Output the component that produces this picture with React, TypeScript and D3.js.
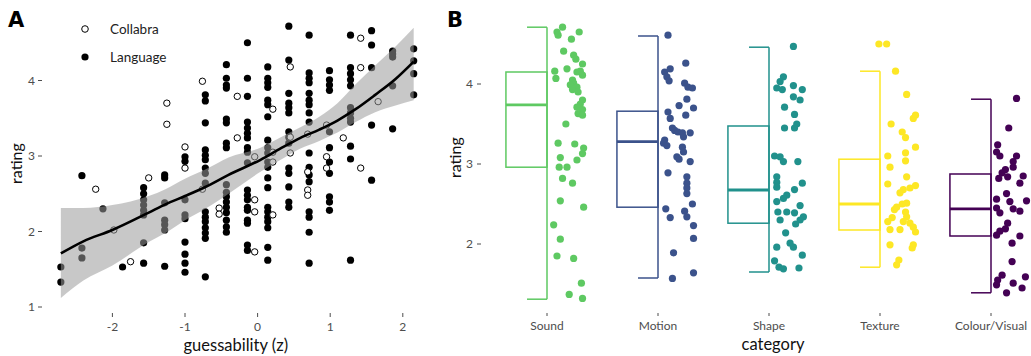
import React from 'react'
import * as d3 from 'd3'

// ---- Panel A data: guessability (z) vs rating
// each entry: [guessability, rating]
const languagePoints: [number, number][] = [
  [-2.71, 1.53], [-2.71, 1.33],
  [-2.42, 2.74], [-2.42, 1.78], [-2.42, 1.65],
  [-2.13, 2.3],
  [-1.86, 1.53],
  [-1.57, 2.58], [-1.57, 2.5], [-1.57, 2.42], [-1.57, 2.35], [-1.57, 2.28], [-1.57, 2.22], [-1.57, 1.85], [-1.57, 1.58],
  [-1.28, 2.75], [-1.28, 2.71], [-1.28, 2.38], [-1.28, 2.15], [-1.28, 2.09], [-1.28, 2.02], [-1.28, 1.54],
  [-1.0, 2.99], [-1.0, 2.93], [-1.0, 2.42], [-1.0, 2.22], [-1.0, 2.17], [-1.0, 1.86], [-1.0, 1.7], [-1.0, 1.58], [-1.0, 1.46],
  [-0.72, 3.81], [-0.72, 3.73], [-0.72, 3.44], [-0.72, 3.08], [-0.72, 3.01], [-0.72, 2.95], [-0.72, 2.84], [-0.72, 2.77],
  [-0.72, 2.64], [-0.72, 2.26], [-0.72, 2.19], [-0.72, 2.13], [-0.72, 2.05], [-0.72, 1.98], [-0.72, 1.91], [-0.72, 1.4],
  [-0.43, 4.21], [-0.43, 4.03], [-0.43, 3.94], [-0.43, 3.9], [-0.43, 3.49], [-0.43, 3.44], [-0.43, 3.17], [-0.43, 3.11],
  [-0.43, 2.62], [-0.43, 2.52], [-0.43, 2.46], [-0.43, 2.39], [-0.43, 2.32], [-0.43, 2.25], [-0.43, 2.15], [-0.43, 2.06], [-0.43, 1.99],
  [-0.14, 4.5], [-0.14, 4.03], [-0.14, 3.79], [-0.14, 3.45], [-0.14, 3.37], [-0.14, 3.3], [-0.14, 3.24], [-0.14, 3.11], [-0.14, 3.05],
  [-0.14, 2.91], [-0.14, 2.55], [-0.14, 2.48], [-0.14, 2.42], [-0.14, 2.32], [-0.14, 2.28], [-0.14, 2.15], [-0.14, 2.11], [-0.14, 1.82], [-0.14, 1.75],
  [0.14, 4.18], [0.14, 4.03], [0.14, 3.97], [0.14, 3.91], [0.14, 3.74], [0.14, 3.68], [0.14, 3.52], [0.14, 3.21], [0.14, 3.11], [0.14, 3.04],
  [0.14, 2.92], [0.14, 2.85], [0.14, 2.71], [0.14, 2.58], [0.14, 2.32], [0.14, 2.26], [0.14, 2.19], [0.14, 2.13], [0.14, 2.05], [0.14, 1.79], [0.14, 1.62],
  [0.43, 4.72], [0.43, 4.27], [0.43, 3.83], [0.43, 3.7], [0.43, 3.64], [0.43, 3.57], [0.43, 3.32], [0.43, 3.25], [0.43, 3.17],
  [0.43, 2.84], [0.43, 2.77], [0.43, 2.59], [0.43, 2.39], [0.43, 2.32],
  [0.71, 4.6], [0.71, 4.1], [0.71, 4.03], [0.71, 3.97], [0.71, 3.83], [0.71, 3.74], [0.71, 3.68], [0.71, 3.57], [0.71, 3.45], [0.71, 3.04],
  [0.71, 2.85], [0.71, 2.75], [0.71, 2.66], [0.71, 2.26], [0.71, 2.19], [0.71, 1.99], [0.71, 1.58],
  [0.99, 4.13], [0.99, 4.01], [0.99, 3.94], [0.99, 3.87], [0.99, 3.32], [0.99, 3.11], [0.99, 2.92], [0.99, 2.77], [0.99, 2.46], [0.99, 2.39], [0.99, 2.28],
  [1.28, 4.6], [1.28, 4.17], [1.28, 4.09], [1.28, 4.01], [1.28, 3.93], [1.28, 3.64], [1.28, 3.57], [1.28, 3.5], [1.28, 3.45], [1.28, 3.13], [1.28, 2.96], [1.28, 1.62],
  [1.57, 4.66], [1.57, 4.47], [1.57, 4.17], [1.57, 3.41], [1.57, 2.68],
  [1.86, 4.39], [1.86, 4.35], [1.86, 4.31], [1.86, 3.93], [1.86, 3.36],
  [2.15, 4.42], [2.15, 4.26], [2.15, 4.09], [2.15, 3.81],
]

const collabraPoints: [number, number][] = [
  [-2.23, 2.56], [-1.98, 2.02], [-1.75, 1.6], [-1.5, 2.71],
  [-1.25, 3.7], [-1.25, 3.42], [-1.0, 3.12], [-1.0, 2.84],
  [-0.76, 3.99], [-0.76, 2.56], [-0.53, 2.31], [-0.53, 2.23],
  [-0.28, 3.79], [-0.28, 3.24],
  [-0.04, 2.99], [-0.04, 2.42], [-0.04, 2.26], [-0.04, 1.73],
  [0.21, 3.62], [0.21, 3.05], [0.21, 2.92], [0.21, 2.22],
  [0.45, 4.18], [0.45, 3.25], [0.45, 3.04],
  [0.69, 3.29], [0.69, 2.79], [0.69, 2.55], [0.69, 2.48],
  [0.95, 3.41], [0.95, 2.99], [0.95, 2.84],
  [1.18, 3.24], [1.42, 4.56], [1.42, 4.17], [1.42, 2.84], [1.66, 3.72],
]

// smoothed fit and its confidence band
const fitX = [-2.71, -2.4, -2, -1.5, -1.27, -1, -0.72, -0.4, 0.04, 0.3, 0.59, 0.85, 1.1, 1.35, 1.62, 1.9, 2.15]
const fitY = [1.71, 1.87, 2.02, 2.25, 2.36, 2.47, 2.59, 2.75, 2.95, 3.09, 3.24, 3.35, 3.47, 3.62, 3.81, 4.02, 4.25]
const fitLo = [1.12, 1.35, 1.55, 1.86, 1.98, 2.15, 2.3, 2.5, 2.79, 2.94, 3.1, 3.2, 3.31, 3.45, 3.58, 3.67, 3.74]
const fitHi = [2.31, 2.31, 2.35, 2.47, 2.56, 2.7, 2.82, 2.98, 3.11, 3.24, 3.38, 3.52, 3.7, 3.95, 4.2, 4.45, 4.7]

// ---- Panel B data: rating by category
const categories = ['Sound', 'Motion', 'Shape', 'Texture', 'Colour/Visual']
const categoryColors = ['#5ec962', '#3b528b', '#21918c', '#fde725', '#440154']
// [min, q1, median, q3, max]
const boxStats = [
  [1.31, 2.96, 3.74, 4.15, 4.71],
  [1.575, 2.46, 3.28, 3.66, 4.6],
  [1.65, 2.26, 2.675, 3.475, 4.46],
  [1.71, 2.175, 2.5, 3.06, 4.16],
  [1.39, 2.1, 2.44, 2.875, 3.81],
]
// [jitter (fraction of category step), rating]
const soundPoints: [number, number][] = [
  [0.14, 4.71], [0.09, 4.65], [0.1, 4.61], [0.29, 4.65], [0.22, 4.56], [0.15, 4.41], [0.24, 4.36], [0.26, 4.31],
  [0.32, 4.25], [0.18, 4.19], [0.07, 4.16], [0.3, 4.16], [0.27, 4.15], [0.32, 4.11], [0.08, 4.07], [0.23, 4.05],
  [0.24, 4.01], [0.21, 3.99], [0.27, 3.96], [0.23, 3.93], [0.28, 3.9], [0.32, 3.8], [0.3, 3.75], [0.27, 3.71],
  [0.32, 3.68], [0.28, 3.63], [0.32, 3.61], [0.17, 3.5], [0.1, 3.26], [0.25, 3.25], [0.33, 3.2], [0.32, 3.13],
  [0.27, 3.05], [0.12, 3.08], [0.11, 2.96], [0.18, 2.96], [0.14, 2.82], [0.23, 2.76], [0.12, 2.54], [0.33, 2.46],
  [0.06, 2.24], [0.12, 2.06], [0.09, 1.85], [0.24, 1.82], [0.31, 1.51], [0.2, 1.37], [0.32, 1.32],
]
const motionPoints: [number, number][] = [
  [0.09, 4.61], [0.25, 4.26], [0.11, 4.19], [0.06, 4.15], [0.08, 4.09], [0.1, 4.04], [0.24, 4.01], [0.27, 3.96],
  [0.31, 3.95], [0.26, 3.81], [0.19, 3.73], [0.32, 3.7], [0.09, 3.65], [0.25, 3.61], [0.11, 3.57], [0.13, 3.45],
  [0.15, 3.42], [0.18, 3.4], [0.22, 3.39], [0.29, 3.39], [0.23, 3.34], [0.06, 3.3], [0.05, 3.26], [0.08, 3.23],
  [0.22, 3.21], [0.23, 3.15], [0.17, 3.09], [0.19, 3.06], [0.29, 3.03], [0.09, 2.89], [0.26, 2.84], [0.26, 2.76],
  [0.26, 2.7], [0.26, 2.63], [0.31, 2.5], [0.07, 2.44], [0.24, 2.41], [0.11, 2.33], [0.26, 2.34], [0.32, 2.23],
  [0.32, 2.07], [0.14, 1.89], [0.32, 1.64], [0.13, 1.57],
]
const shapePoints: [number, number][] = [
  [0.22, 4.47], [0.13, 4.09], [0.1, 4.03], [0.07, 3.95], [0.12, 3.93], [0.22, 3.98], [0.3, 3.93], [0.22, 3.84],
  [0.28, 3.8], [0.14, 3.71], [0.23, 3.62], [0.25, 3.5], [0.14, 3.45], [0.23, 3.45], [0.05, 3.1], [0.1, 3.09],
  [0.13, 3.03], [0.26, 3.03], [0.07, 2.84], [0.07, 2.77], [0.3, 2.76], [0.07, 2.71], [0.23, 2.68], [0.16, 2.61],
  [0.13, 2.57], [0.07, 2.53], [0.28, 2.48], [0.08, 2.4], [0.16, 2.4], [0.23, 2.39], [0.31, 2.34], [0.28, 2.3],
  [0.24, 2.25], [0.1, 2.3], [0.15, 2.14], [0.07, 1.96], [0.19, 2.01], [0.22, 1.96], [0.3, 1.86], [0.05, 1.79],
  [0.09, 1.71], [0.13, 1.69], [0.27, 1.7],
]
const texturePoints: [number, number][] = [
  [-0.01, 4.5], [0.06, 4.5], [0.14, 4.16], [0.24, 3.87], [0.32, 3.61], [0.3, 3.57], [0.1, 3.5], [0.2, 3.4],
  [0.23, 3.33], [0.32, 3.21], [0.07, 3.1], [0.23, 3.14], [0.23, 3.04], [0.09, 2.96], [0.24, 2.84], [0.07, 2.75],
  [0.32, 2.73], [0.27, 2.7], [0.21, 2.68], [0.18, 2.64], [0.24, 2.51], [0.2, 2.5], [0.15, 2.46], [0.13, 2.43],
  [0.23, 2.4], [0.24, 2.34], [0.11, 2.33], [0.27, 2.26], [0.3, 2.21], [0.07, 2.28], [0.09, 2.18], [0.18, 2.18],
  [0.21, 2.28], [0.32, 2.15], [0.3, 1.99], [0.29, 1.95], [0.09, 1.99], [0.17, 1.8], [0.15, 1.74],
]
const colourPoints: [number, number][] = [
  [0.23, 3.82], [0.16, 3.45], [0.06, 3.24], [0.05, 3.15], [0.08, 3.1], [0.23, 3.1], [0.2, 3.03], [0.2, 2.96],
  [0.13, 2.93], [0.1, 2.89], [0.29, 2.85], [0.07, 2.82], [0.15, 2.84], [0.26, 2.76], [0.14, 2.63], [0.05, 2.56],
  [0.32, 2.54], [0.17, 2.53], [0.2, 2.44], [0.26, 2.41], [0.05, 2.45], [0.08, 2.39], [0.15, 2.26], [0.13, 2.19],
  [0.08, 2.16], [0.05, 2.11], [0.26, 2.1], [0.19, 2.01], [0.19, 1.78], [0.1, 1.61], [0.31, 1.59], [0.06, 1.55],
  [0.2, 1.51], [0.05, 1.49], [0.28, 1.45], [0.14, 1.39],
]
const categoryPoints = [soundPoints, motionPoints, shapePoints, texturePoints, colourPoints]

const xTicksA = [-2, -1, 0, 1, 2]
const yTicksA = [1, 2, 3, 4]
const yTicksB = [2, 3, 4]

const FONT = 'Lato, "Open Sans", sans-serif'
const TICK_COLOR = '#4d4d4d'

export default function App() {
  // panel A scales
  const xA = d3.scaleLinear().domain([-2, 2]).range([112.4, 402.8])
  const yA = d3.scaleLinear().domain([1, 5]).range([307, 5])
  const fit = fitX.map((x, i) => ({ x, y: fitY[i], lo: fitLo[i], hi: fitHi[i] }))
  const band = d3
    .area<any>()
    .x((d) => xA(d.x))
    .y0((d) => yA(d.lo))
    .y1((d) => yA(d.hi))
    .curve(d3.curveMonotoneX)
  const line = d3
    .line<any>()
    .x((d) => xA(d.x))
    .y((d) => yA(d.y))
    .curve(d3.curveMonotoneX)

  // panel B scales
  const xB = d3.scalePoint().domain(categories).range([547, 991])
  const yB = d3.scaleLinear().domain([1, 5]).range([324, 4])
  const step = xB.step()
  const boxW = step * 0.37
  const capW = step * 0.18

  return (
    <svg
      width={1031}
      height={356}
      style={{ position: 'absolute', left: 0, top: 0, background: '#fff' }}
      fontFamily={FONT}
    >
      {/* ---------- Panel A ---------- */}
      <text x={8} y={27} fontSize={21} fontWeight="bold" fontFamily="'DejaVu Sans', sans-serif">A</text>

      {/* legend */}
      <circle cx={85} cy={29} r={3.3} fill="#fff" stroke="#000" strokeWidth={1} />
      <text x={110} y={34} fontSize={13.5} fill="#222">Collabra</text>
      <circle cx={85} cy={57} r={3.6} fill="#000" />
      <text x={110} y={62} fontSize={13.5} fill="#222">Language</text>

      {/* y axis */}
      {yTicksA.map((t) => (
        <g key={'ya' + t}>
          <text x={35} y={yA(t)} dy="0.35em" fontSize={12} fill={TICK_COLOR} textAnchor="end">{t}</text>
          <line x1={38} x2={42} y1={yA(t)} y2={yA(t)} stroke={TICK_COLOR} strokeWidth={1} />
        </g>
      ))}
      <text transform={`translate(22,${yA(2.9)}) rotate(-90)`} fontSize={16} textAnchor="middle" fill="#111">rating</text>

      {/* x axis */}
      {xTicksA.map((t) => (
        <g key={'xa' + t}>
          <line x1={xA(t)} x2={xA(t)} y1={313} y2={317} stroke={TICK_COLOR} strokeWidth={1} />
          <text x={xA(t)} y={331} fontSize={12} fill={TICK_COLOR} textAnchor="middle">{t}</text>
        </g>
      ))}
      <text x={xA(-0.3)} y={351} fontSize={16.5} textAnchor="middle" fill="#111">guessability (z)</text>

      {/* points */}
      {languagePoints.map(([x, y], i) => (
        <circle key={'l' + i} cx={xA(x)} cy={yA(y)} r={3.6} fill="#000" />
      ))}
      {collabraPoints.map(([x, y], i) => (
        <circle key={'c' + i} cx={xA(x)} cy={yA(y)} r={3.2} fill="#fff" stroke="#000" strokeWidth={1} />
      ))}

      {/* smooth fit */}
      <path d={band(fit) || ''} fill="#9a9a9a" fillOpacity={0.55} />
      <path d={line(fit) || ''} fill="none" stroke="#000" strokeWidth={2.6} />

      {/* ---------- Panel B ---------- */}
      <text x={447} y={27} fontSize={21} fontWeight="bold" fontFamily="'DejaVu Sans', sans-serif">B</text>

      {yTicksB.map((t) => (
        <g key={'yb' + t}>
          <text x={473} y={yB(t)} dy="0.35em" fontSize={12} fill={TICK_COLOR} textAnchor="end">{t}</text>
          <line x1={477} x2={481} y1={yB(t)} y2={yB(t)} stroke={TICK_COLOR} strokeWidth={1} />
        </g>
      ))}
      <text transform={`translate(461,${yB(3.08)}) rotate(-90)`} fontSize={16} textAnchor="middle" fill="#111">rating</text>

      {categories.map((c, i) => {
        const cx = xB(c) as number
        const [mn, q1, md, q3, mx] = boxStats[i]
        const col = categoryColors[i]
        return (
          <g key={c}>
            {/* whisker bracket */}
            <line x1={cx} x2={cx} y1={yB(mx)} y2={yB(mn)} stroke={col} strokeWidth={1.5} />
            <line x1={cx - capW} x2={cx} y1={yB(mx)} y2={yB(mx)} stroke={col} strokeWidth={1.5} />
            <line x1={cx - capW} x2={cx} y1={yB(mn)} y2={yB(mn)} stroke={col} strokeWidth={1.5} />
            {/* half box */}
            <rect x={cx - boxW} y={yB(q3)} width={boxW} height={yB(q1) - yB(q3)} fill="none" stroke={col} strokeWidth={1.5} />
            <line x1={cx - boxW} x2={cx} y1={yB(md)} y2={yB(md)} stroke={col} strokeWidth={2.8} />
            {/* jittered points */}
            {categoryPoints[i].map(([j, v], k) => (
              <circle key={k} cx={cx + j * step} cy={yB(v)} r={3.6} fill={col} />
            ))}
            {/* x tick + label */}
            <line x1={cx} x2={cx} y1={313} y2={316} stroke={TICK_COLOR} strokeWidth={1} />
            <text x={cx} y={330} fontSize={12} fill={TICK_COLOR} textAnchor="middle">{c}</text>
          </g>
        )
      })}
      <text x={(xB('Shape') as number) + 4} y={350} fontSize={16.5} textAnchor="middle" fill="#111">category</text>
    </svg>
  )
}
